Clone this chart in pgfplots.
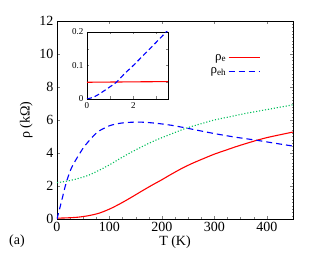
\documentclass[border=0pt]{standalone}
\usepackage{fontspec}
\setmainfont{Liberation Serif}
\usepackage{pgfplots}
\pgfplotsset{compat=1.18}
\definecolor{cred}{RGB}{255,0,0}
\definecolor{cblue}{RGB}{0,0,255}
\definecolor{cgreen}{RGB}{0,190,90}
\begin{document}
\begin{tikzpicture}
\path (-57pt,-42pt) rectangle (254pt,219pt);
\begin{axis}[
  name=main,
  at={(0pt,0pt)}, anchor=south west,
  scale only axis, width=236pt, height=198pt,
  xmin=0, xmax=450, ymin=0, ymax=12,
  xtick={0,100,200,300,400}, ytick={0,2,4,6,8,10,12},
  minor x tick num=3, minor y tick num=9,
  tick align=inside, major tick length=3pt, minor tick length=1.5pt,
  xticklabel style={font=\fontsize{14}{16}\selectfont},
  yticklabel style={font=\fontsize{14}{16}\selectfont},
  /pgf/number format/assume math mode=true,
  xlabel={T (K)}, ylabel={ρ (kΩ)},
  label style={font=\fontsize{14}{16}\selectfont},
  xlabel style={yshift=3pt},
  axis line style={line width=0.8pt},
  legend plot pos=right,
  legend cell align=right,
  legend style={draw=none, fill=none, at={(0.875,0.855)}, anchor=north east,
     font=\fontsize{13}{14}\selectfont, row sep=2pt},
  legend image code/.code={\draw[#1] (5pt,0pt) -- (36pt,0pt);},
]
\addplot[cred, line width=1.1pt, smooth] coordinates {
(0,0.05)(20,0.07)(40,0.11)(60,0.2)(80,0.35)(100,0.6)(120,0.92)(140,1.28)(160,1.66)(180,2.03)(200,2.38)(215,2.66)(240,3.1)(260,3.4)(280,3.67)(300,3.93)(320,4.15)(340,4.37)(360,4.57)(381,4.77)(400,4.93)(420,5.07)(450,5.27)};
\addlegendentry{ρ\textsubscript{e}}
\addplot[cblue, line width=1.1pt, smooth, dash pattern=on 6pt off 4pt] coordinates {
(0,0)(5,0.62)(10,1.25)(15,1.9)(20,2.45)(25,2.9)(30,3.25)(40,3.8)(50,4.3)(60,4.7)(70,5.05)(80,5.33)(100,5.65)(120,5.8)(140,5.86)(160,5.87)(180,5.83)(200,5.76)(220,5.67)(247,5.51)(280,5.3)(310,5.12)(340,4.96)(381,4.77)(410,4.62)(450,4.42)};
\addlegendentry{ρ\textsubscript{eh}}
\addplot[cgreen, line width=1.1pt, smooth, dash pattern=on 1.1pt off 1.9pt] coordinates {
(0,2.2)(20,2.3)(40,2.45)(60,2.65)(80,2.95)(100,3.28)(120,3.66)(140,4.02)(160,4.35)(180,4.66)(200,4.93)(220,5.18)(247,5.51)(280,5.82)(300,6.0)(330,6.2)(360,6.4)(400,6.63)(450,6.92)};
\end{axis}
\node[font=\fontsize{14}{16}\selectfont, anchor=center] at (-40pt,-22pt) {(a)};
\begin{axis}[
  at={(30pt,120pt)}, anchor=south west,
  scale only axis, width=81pt, height=67pt,
  xmin=0, xmax=3.5, ymin=0, ymax=0.2,
  xtick={0,2}, ytick={0,0.1,0.2},
  minor xtick={1,3}, minor ytick={0.05,0.15},
  tick align=inside, major tick length=2.5pt, minor tick length=2.5pt,
  ticklabel style={font=\fontsize{9}{10}\selectfont},
  /pgf/number format/assume math mode=true,
  yticklabel style={/pgf/number format/fixed},
  axis line style={line width=0.8pt},
  clip=true,
]
\addplot[cred, line width=1.1pt] coordinates {(0,0.05)(3.5,0.052)};
\addplot[cblue, line width=1.1pt, smooth, dash pattern=on 5pt off 3pt] coordinates {
(0,0)(0.3,0.006)(0.6,0.018)(0.9,0.032)(1.27,0.05)(1.6,0.074)(2,0.1)(2.5,0.135)(3,0.17)(3.42,0.2)(3.5,0.206)};
\end{axis}
\end{tikzpicture}
\end{document}
